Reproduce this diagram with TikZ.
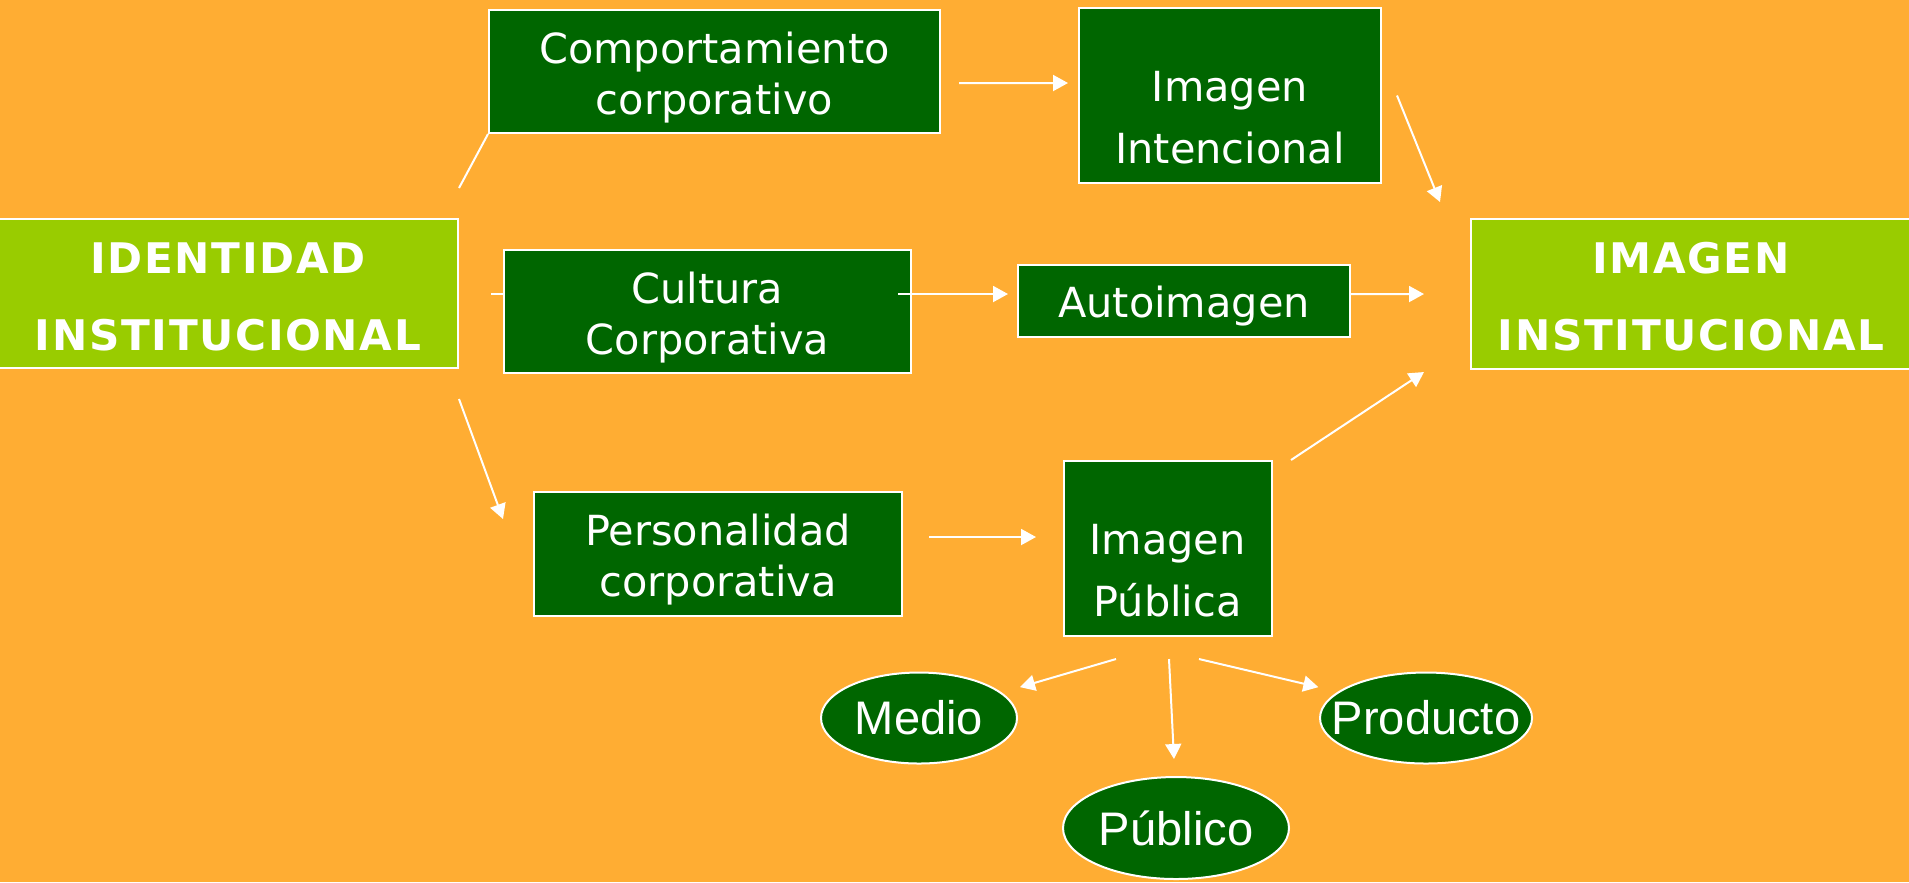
\documentclass[tikz,border=0pt]{standalone}
\usepackage{fontspec}
\usepackage{tikz}
\usetikzlibrary{arrows.meta,shapes.geometric}
\newfontfamily\boxfont{DejaVu Sans}
\newfontfamily\headfont[LetterSpace=4]{DejaVu Sans}
\newfontfamily\ovalfont{Liberation Sans}
\definecolor{bgorange}{RGB}{255,173,51}
\definecolor{darkgrn}{RGB}{0,102,0}
\definecolor{lightgrn}{RGB}{153,204,0}
\tikzset{
	box/.style={draw=white, line width=0.02cm, fill=darkgrn, text=white, align=center, inner sep=0pt},
	txt/.style={text=white, align=center, inner sep=0pt},
	boxtxt/.style={txt, yshift=-0.06cm, font=\boxfont\fontsize{11.8pt}{14.5pt}\selectfont},
	talltxt/.style={txt, yshift=-0.225cm, font=\boxfont\fontsize{11.8pt}{17.6pt}\selectfont},
	head/.style={box, fill=lightgrn, font=\headfont\bfseries\fontsize{12pt}{21.9pt}\selectfont},
	oval/.style={ellipse, draw=white, line width=0.02cm, fill=darkgrn, text=white, inner sep=0pt, font=\ovalfont\fontsize{13.4pt}{16pt}\selectfont},
	link/.style={draw=white, line width=0.02cm},
	arr/.style={link, -{Triangle[length=0.15cm,width=0.16cm]}}
}
\begin{document}
\begin{tikzpicture}
			%%%%% START %%%%%
			
			\path[use as bounding box, fill=bgorange] (0, 0) rectangle (19.09, -8.82);
			
			\node[head, minimum width=4.60cm, minimum height=1.49cm, label={[txt, yshift=-0.03cm, font=\headfont\bfseries\fontsize{12pt}{21.9pt}\selectfont]center:IDENTIDAD\\INSTITUCIONAL}] (ident) at (2.28, -2.935) {};
			\node[head, minimum width=4.40cm, minimum height=1.50cm, label={[txt, yshift=-0.03cm, font=\headfont\bfseries\fontsize{12pt}{21.9pt}\selectfont]center:IMAGEN\\INSTITUCIONAL}] (imginst) at (16.91, -2.94) {};
			
			\node[box, minimum width=4.51cm, minimum height=1.23cm, label={[boxtxt]center:Comportamiento\\corporativo}] (comp) at (7.145, -0.715) {};
			\node[box, minimum width=4.07cm, minimum height=1.23cm, label={[boxtxt]center:Cultura\\Corporativa}] (cult) at (7.075, -3.115) {};
			\node[box, minimum width=3.68cm, minimum height=1.24cm, label={[boxtxt]center:Personalidad\\corporativa}] (pers) at (7.18, -5.54) {};
			
			\node[box, minimum width=3.02cm, minimum height=1.75cm, label={[talltxt]center:Imagen\\Intencional}] (intenc) at (12.30, -0.955) {};
			\node[box, minimum width=3.32cm, minimum height=0.72cm, label={[boxtxt]center:Autoimagen}] (auto) at (11.84, -3.005) {};
			\node[box, minimum width=2.08cm, minimum height=1.75cm, label={[talltxt]center:Imagen\\Pública}] (pub) at (11.675, -5.485) {};
			
			\node[oval, minimum width=1.96cm, minimum height=0.91cm] (medio) at (9.19, -7.18) {\makebox[0pt]{Medio}};
			\node[oval, minimum width=2.12cm, minimum height=0.91cm] (prod) at (14.26, -7.18) {\makebox[0pt]{Producto}};
			\node[oval, minimum width=2.26cm, minimum height=1.02cm] (publico) at (11.76, -8.28) {\makebox[0pt]{Público}};
			
			\draw[link] ([yshift=0.30cm]ident.north east) -- (comp.south west);
			\draw[link] ([xshift=0.32cm]ident.east) -- (cult.west |- ident.east);
			\draw[arr] ([yshift=-0.30cm]ident.south east) -- ([shift={(-0.30,-0.28)}]pers.north west);
			
			\draw[arr] ([shift={(0.18,-0.115)}]comp.east) -- ([shift={(-0.10,0.125)}]intenc.west);
			\draw[arr] ([shift={(-0.14,0.175)}]cult.east) -- ([shift={(-0.09,0.065)}]auto.west);
			\draw[arr] ([shift={(0.26,0.17)}]pers.east) -- ([shift={(-0.265,0.115)}]pub.west);
			
			\draw[arr] ([xshift=0.15cm]intenc.east) -- ([shift={(-0.30,0.16)}]imginst.north west);
			\draw[arr] ([yshift=0.065cm]auto.east) -- ([xshift=-0.46cm]imginst.west);
			\draw[arr] ([xshift=0.185cm]pub.north east) -- ([shift={(-0.46,-0.02)}]imginst.south west);
			
			\draw[arr] ([shift={(-0.515,-0.22)}]pub.south) -- ([shift={(0.31,-0.02)}]medio.north east);
			\draw[arr] ([shift={(0.015,-0.22)}]pub.south) -- ([shift={(-0.02,0.17)}]publico.north);
			\draw[arr] ([shift={(0.315,-0.22)}]pub.south) -- ([shift={(-0.32,-0.02)}]prod.north west);
			
			%%%%% END %%%%%
\end{tikzpicture}
\end{document}
